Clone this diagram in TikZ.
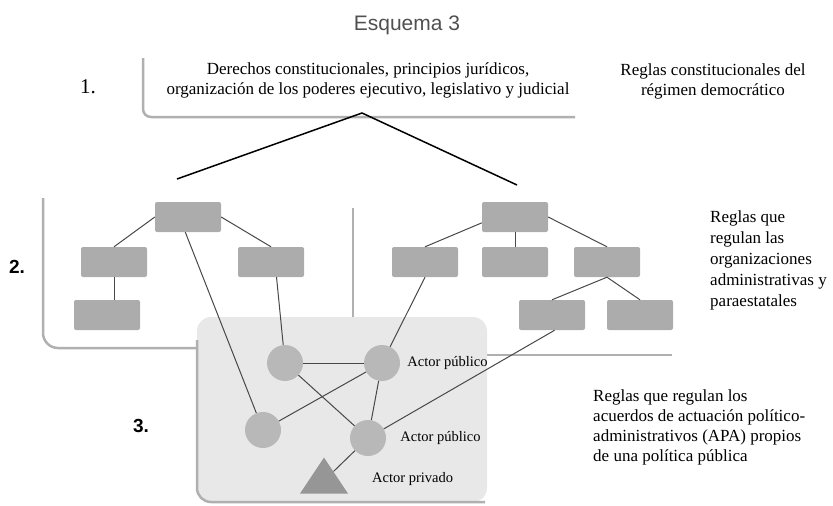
\documentclass[tikz,border=0pt]{standalone}
\usepackage{fontspec}
\setmainfont{Liberation Serif}
\setsansfont{Liberation Sans}
\usetikzlibrary{positioning}
\usetikzlibrary{shapes.geometric}
\definecolor{boxgray}{RGB}{172, 172, 172}
\definecolor{actorgray}{RGB}{184, 184, 184}
\definecolor{privgray}{RGB}{150, 150, 150}
\definecolor{framegray}{RGB}{176, 176, 176}
\definecolor{areagray}{RGB}{232, 232, 232}
\definecolor{linkgray}{RGB}{72, 72, 72}
\definecolor{titlegray}{RGB}{80, 80, 80}
\tikzset{
  orgbox/.style     = {shape=rectangle, rounded corners=2pt, fill=boxgray,
                       minimum width=66pt, minimum height=30pt, inner sep=0pt},
  actor/.style      = {shape=circle, fill=actorgray, minimum size=36pt, inner sep=0pt},
  privado/.style    = {shape=isosceles triangle, shape border rotate=90,
                       isosceles triangle stretches, fill=privgray,
                       minimum width=48pt, minimum height=36pt, inner sep=0pt},
  frame/.style      = {draw=framegray, line width=2.5pt},
  link/.style       = {draw=linkgray, line width=1pt},
  split/.style      = {draw=black, line width=1.5pt},
  rules/.style      = {font=\fontsize{17}{20}\selectfont, inner sep=0pt},
  actorlabel/.style = {font=\fontsize{14.5}{17}\selectfont, inner sep=0pt, anchor=west},
  levelnum/.style   = {font=\sffamily\bfseries\fontsize{19}{22}\selectfont, inner sep=0pt}
}
\begin{document}
\begin{tikzpicture}[x=1pt, y=-1pt]
  \useasboundingbox (0,0) rectangle (833,506);
  \node [font=\sffamily\fontsize{21}{24}\selectfont, text=titlegray, inner sep=0pt] (title) at (407,25) {Esquema 3};
  % level frames
  \draw [frame, rounded corners=8pt] (143,58) -- (143,117) -- (575,117);
  \draw [frame, rounded corners=15pt] (43,198) -- (43,348) -- (197,348);
  \draw [frame] (353,208) -- (353,317);
  \draw [frame] (487,355) -- (672,355);
  \fill [areagray, rounded corners=14pt] (197,317) rectangle (487,502);
  \draw [frame, rounded corners=14pt] (197,340) -- (197,502) -- (485,502);
  % level 1
  \node [rules, align=center] (derechos) at (368,80) {Derechos constitucionales, principios jurídicos,\\organización de los poderes ejecutivo, legislativo y judicial};
  \node [rules, align=center] (regimen) at (713,81) {Reglas constitucionales del\\régimen democrático};
  \coordinate (apex) at (362,113);
  \coordinate (lefttip) at (177,179);
  \coordinate (righttip) at (517,185);
  \draw [split] (lefttip) -- (apex) -- (righttip);
  % level 2
  \node [orgbox] (ltop) at (188,217) {};
  \node [orgbox] (lml) at (114,262) {};
  \node [orgbox] (lmr) at (271,262) {};
  \node [orgbox] (lbl) at (107,315) {};
  \node [orgbox] (rtop) at (515,217) {};
  \node [orgbox] (rml) at (425,262) {};
  \node [orgbox] (rmc) at (515,262) {};
  \node [orgbox] (rmr) at (607,262) {};
  \node [orgbox] (rbl) at (552,315) {};
  \node [orgbox] (rbr) at (640,315) {};
  \node [rules, font=\fontsize{17}{21}\selectfont, align=left, anchor=west] (orgs) at (710,260) {Reglas que\\regulan las\\organizaciones\\administrativas y\\paraestatales};
  % level 3
  \node [actor] (c1) at (285,363) {};
  \node [actor] (c2) at (382,363) {};
  \node [actor] (c3) at (263,430) {};
  \node [actor] (c4) at (368,438) {};
  \node [privado, anchor=apex] (priv) at (324,457) {};
  \node [actorlabel, right=7pt of c2] (pub1) {Actor público};
  \node [actorlabel, right=14pt of c4] (pub2) {Actor público};
  \node [actorlabel] (privlabel) at (372,479) {Actor privado};
  \node [rules, align=left, anchor=west] (apa) at (593,427) {Reglas que regulan los\\acuerdos de actuación político-\\administrativos (APA) propios\\de una política pública};
  \node [font=\fontsize{21}{24}\selectfont, inner sep=0pt] (n1) at (88,87) {1.};
  \node [levelnum] (n2) at (17,267) {2.};
  \node [levelnum] (n3) at (141,426) {3.};
  % links
  \path [link] (ltop.west) edge (lml.north);
  \path [link] (ltop.east) edge (lmr.north);
  \path [link] (lml.south) edge (lml.south |- lbl.north);
  \path [link] (ltop.260) edge (c3);
  \path [link] (lmr.290) edge (c1);
  \path [link] (rtop.190) edge (rml.north);
  \path [link] (rtop.south) edge (rmc.north);
  \path [link] (rtop.east) edge (rmr.north);
  \path [link] (rmr.south) edge (rbl.north);
  \path [link] (rmr.south) edge (rbr.north);
  \path [link] (rml.south) edge (c2);
  \path [link] (rbl.280) edge (c4);
  \path [link] (c1) edge (c2);
  \path [link] (c1) edge (c4);
  \path [link] (c2) edge (c3);
  \path [link] (c2) edge (c4);
  \path [link] (c4) edge (priv);
\end{tikzpicture}
\end{document}
